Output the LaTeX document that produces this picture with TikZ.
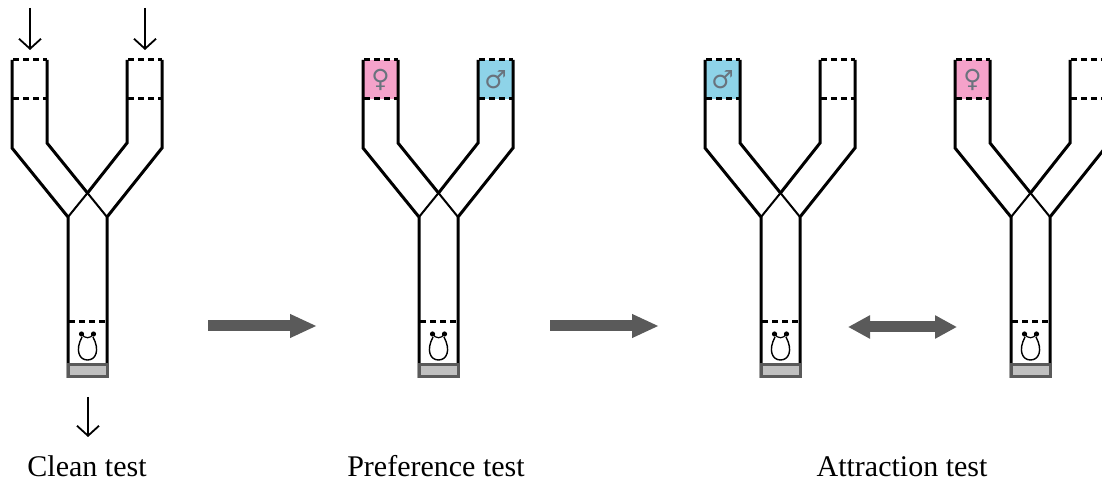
\documentclass[tikz,border=0pt]{standalone}
\usepackage{fontspec}
\setmainfont{Liberation Serif}
\newfontfamily\symfont{DejaVu Sans}
\usetikzlibrary{arrows.meta}

\definecolor{femalepink}{RGB}{245,162,202}
\definecolor{malecyan}{RGB}{142,211,232}
\definecolor{arrowgray}{RGB}{90,90,90}
\definecolor{sandgray}{RGB}{192,192,192}
\definecolor{symgray}{RGB}{105,115,125}

\tikzset{
  wall/.style={line width=1.5pt, line join=miter},
  thinwall/.style={line width=1pt},
  gate/.style={line width=1.5pt, dash pattern=on 3pt off 2pt, dash phase=-0.5pt},
  plug/.style={line width=1.5pt, draw=arrowgray, fill=sandgray},
  feed/.style={line width=0.9pt, -{Straight Barb[length=5pt,width=11pt]}},
  block/.style={line width=5.5pt, arrowgray, -{Triangle[length=13.5pt,width=11pt]}},
  dblock/.style={line width=5.5pt, arrowgray,
    {Triangle[length=11pt,width=11pt]}-{Triangle[length=11pt,width=11pt]}},
  odour/.style={minimum width=17.5pt, minimum height=19.5pt, inner sep=0pt,
    font=\symfont\fontsize{12.5}{14}\selectfont, text=symgray},
  testname/.style={font=\fontsize{15}{18}\selectfont, anchor=base},
}

% one Y-maze, shifted right by #1 (pixels)
\newcommand\ymaze[1]{%
  \begin{scope}[shift={(#1,0)}]
    % arms and stem
    \draw[wall] (12,60) -- (12,148) -- (68,217) -- (68,378);
    \draw[wall] (162,60) -- (162,148) -- (107,217) -- (107,378);
    \draw[wall] (47,60) -- (47,143) -- (87.5,193);
    \draw[wall] (127,60) -- (127,143) -- (87.5,193);
    \draw[thinwall] (87.5,193) -- (107,217);
    \draw[thinwall] (87.5,193) -- (68,217);
    % mesh gates
    \draw[gate] (12,60) -- (47,60);
    \draw[gate] (12,99) -- (47,99);
    \draw[gate] (127,60) -- (162,60);
    \draw[gate] (127,99) -- (162,99);
    \draw[gate] (68,322) -- (107,322);
    % stopper at the release end
    \draw[plug] (68,365) rectangle (107,377);
    % insect
    \fill (81.5,334) circle (1.3pt);
    \fill (93.5,334) circle (1.3pt);
    \draw[line width=0.6pt] (81.5,334) .. controls (85,339) and (90,339) .. (93.5,334);
    \draw[line width=0.7pt] (82,337) .. controls (75,350) and (79,360) .. (87.5,360)
      .. controls (96,360) and (100,350) .. (93,337);
  \end{scope}}

\begin{document}
\begin{tikzpicture}[x=0.5pt, y=-0.5pt]
  \useasboundingbox (0,0) rectangle (1102,485);

  % odour chambers
  \node[odour, fill=femalepink] (p2f) at (380.5,79.5) {♀};
  \node[odour, fill=malecyan]   (p2m) at (495.5,79.5) {♂};
  \node[odour, fill=malecyan]   (p3m) at (722.5,79.5) {♂};
  \node[odour, fill=femalepink] (p4f) at (972.5,79.5) {♀};

  \ymaze{0}
  \ymaze{351}
  \ymaze{693}
  \ymaze{943}

  % air flow through the clean maze
  \coordinate (inL) at (30,8);   \coordinate (inLe) at (30,50);
  \coordinate (inR) at (145,8);  \coordinate (inRe) at (145,50);
  \coordinate (out) at (88,397); \coordinate (oute) at (88,437);
  \draw[feed] (inL) -- (inLe);
  \draw[feed] (inR) -- (inRe);
  \draw[feed] (out) -- (oute);

  % sequence of tests
  \coordinate (s1) at (208,326); \coordinate (e1) at (317,326);
  \coordinate (s2) at (550,326); \coordinate (e2) at (659,326);
  \coordinate (s3) at (848,327); \coordinate (e3) at (957,327);
  \draw[block] (s1) -- (e1);
  \draw[block] (s2) -- (e2);
  \draw[dblock] (s3) -- (e3);

  \node[testname] (clean) at (87,477) {Clean test};
  \node[testname] (pref)  at (436,477) {Preference test};
  \node[testname] (attr)  at (902,477) {Attraction test};
\end{tikzpicture}
\end{document}
